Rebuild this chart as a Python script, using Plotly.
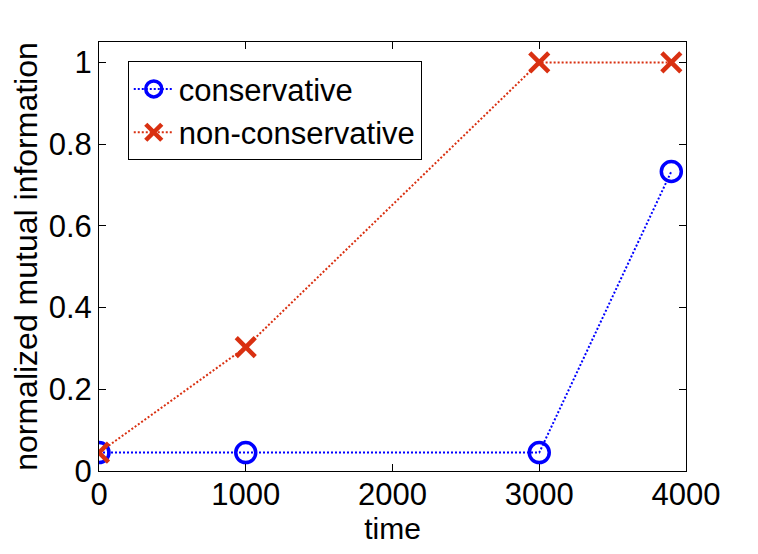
import plotly.graph_objects as go

time = [0, 1000, 3000, 3900]
conservative = [0.045, 0.045, 0.045, 0.733]
non_conservative = [0.045, 0.303, 1.0, 1.0]
x_ticks = [0, 1000, 2000, 3000, 4000]
y_ticks = [0, 0.2, 0.4, 0.6, 0.8, 1]
y_tick_labels = ["0", "0.2", "0.4", "0.6", "0.8", "1"]

BLUE = "rgb(0,0,255)"
RED = "rgb(217,48,17)"
FONT = "Liberation Sans, Arial, sans-serif"

fig = go.Figure()
fig.add_trace(go.Scatter(
    x=time, y=conservative, name="conservative", mode="lines+markers",
    line=dict(color=BLUE, width=2, dash="2px,2px"),
    marker=dict(symbol="circle-open", size=20, color=BLUE, line=dict(color=BLUE, width=3.5)),
))
fig.add_trace(go.Scatter(
    x=time, y=non_conservative, name="non-conservative", mode="lines+markers",
    line=dict(color=RED, width=2, dash="2px,2px"),
    marker=dict(symbol="x-thin", size=19, color=RED, line=dict(color=RED, width=4.5)),
))

axis_common = dict(
    showgrid=False, zeroline=False, showline=True, linecolor="black", linewidth=1,
    mirror="ticks", ticks="inside", ticklen=7, tickcolor="black", tickwidth=1,
    tickfont=dict(family=FONT, size=31, color="black"),
)
fig.update_xaxes(range=[0, 4000], tickvals=x_ticks, ticklabelstandoff=-4,
                 title=dict(text="time", font=dict(family=FONT, size=30, color="black"), standoff=0), **axis_common)
fig.update_yaxes(range=[0, 1.05], tickvals=y_ticks, ticktext=y_tick_labels,
                 title=dict(text="normalized mutual information", font=dict(family=FONT, size=32, color="black"), standoff=2), **axis_common)

fig.update_layout(
    width=742, height=538,
    margin=dict(l=91, r=64, t=34, b=75, autoexpand=False),
    paper_bgcolor="white", plot_bgcolor="white",
    font=dict(family=FONT, size=31, color="black"),
    legend=dict(x=0.049, y=0.955, xanchor="left", yanchor="top",
                bordercolor="black", borderwidth=1, bgcolor="white",
                font=dict(family=FONT, size=31, color="black"),
                itemwidth=40, tracegroupgap=0),
    showlegend=True,
)

fig.write_html("out.html")
